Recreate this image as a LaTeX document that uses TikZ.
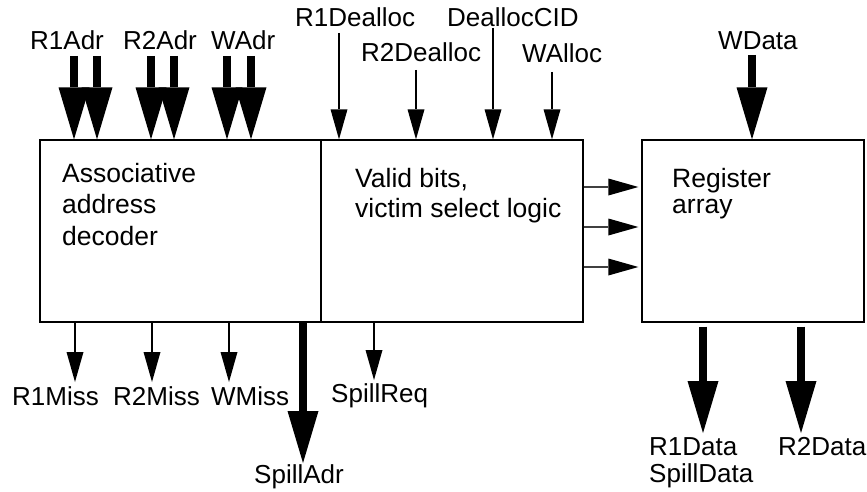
\documentclass[tikz,border=0pt]{standalone}
\usepackage{fontspec}
\setmainfont{Liberation Sans}
\usetikzlibrary{arrows.meta}
\begin{document}
\begin{tikzpicture}[x=1pt,y=-1pt,
  blk/.style={draw, line width=1.3pt, inner sep=0pt},
  lbl/.style={anchor=base west, inner sep=0pt, font=\fontsize{26}{31}\selectfont},
  captxt/.style={lbl, font=\fontsize{26.5}{31}\selectfont},
  bus/.style={line width=8pt, -{Triangle[length=52pt,width=31pt,line width=0pt]}},
  sig/.style={line width=2.4pt, -{Triangle[length=30pt,width=17pt,line width=0pt]}},
  ctl/.style={line width=1.5pt, draw=black!75, -{Triangle[length=30pt,width=17pt,line width=0pt,fill=black]}}]

\useasboundingbox (0,0) rectangle (867,492);

% functional blocks
\node[blk, minimum width=281pt, minimum height=182pt] (dec) at (180.5,231) {};
\node[blk, minimum width=262pt, minimum height=182pt] (vs)  at (452,231) {};
\node[blk, minimum width=222pt, minimum height=182pt] (reg) at (753,231) {};

% block captions
\node[captxt] (t1) at (62,182) {Associative};
\node[captxt] (t2) at (62,213) {address};
\node[captxt] (t3) at (62,245) {decoder};
\node[captxt] (t4) at (355,187) {Valid bits,};
\node[captxt] (t5) at (355,217) {victim select logic};
\node[captxt] (t6) at (672,187) {Register};
\node[captxt] (t7) at (672,213) {array};

% input labels
\node[lbl] (lr1a) at (30,50)  {R1Adr};
\node[lbl] (lr2a) at (123,50) {R2Adr};
\node[lbl] (lwa)  at (211,50) {WAdr};
\node[lbl] (lr1d) at (295,27) {R1Dealloc};
\node[lbl] (lr2d) at (361,62) {R2Dealloc};
\node[lbl] (ldc)  at (447,27) {DeallocCID};
\node[lbl] (lwal) at (522,63) {WAlloc};
\node[lbl] (lwd)  at (718,50) {WData};

% output labels
\node[lbl] (lm1) at (12,405)  {R1Miss};
\node[lbl] (lm2) at (113,405) {R2Miss};
\node[lbl] (lmw) at (211,405) {WMiss};
\node[lbl] (lsr) at (331,402) {SpillReq};
\node[lbl] (lsa) at (254,483) {SpillAdr};
\node[lbl] (lo1) at (649,455) {R1Data};
\node[lbl] (lsd) at (649,482) {SpillData};
\node[lbl] (lo2) at (778,455) {R2Data};

% free ends of the connectors
\coordinate (a1) at (74,56);  \coordinate (a2) at (97,56);
\coordinate (b1) at (151,56); \coordinate (b2) at (174,56);
\coordinate (w1) at (227,56); \coordinate (w2) at (251,56);
\coordinate (d1) at (339,33); \coordinate (d2) at (416,70);
\coordinate (dc) at (493,28); \coordinate (wa) at (552,72);
\coordinate (wd) at (752,55);
\coordinate (m1) at (75,382); \coordinate (m2) at (152,382);
\coordinate (mw) at (229,382); \coordinate (sr) at (374,380);
\coordinate (sa) at (303,463);
\coordinate (o1) at (703,433); \coordinate (o2) at (801,433);
\coordinate (r1) at (610,187); \coordinate (r2) at (610,227);
\coordinate (r3) at (610,267);

% address buses into the decoder
\foreach \p in {a1,a2,b1,b2,w1,w2}
  \draw[bus] (\p) -- (\p |- dec.north);

% control signals into the valid-bit logic
\foreach \p in {d1,d2,dc,wa}
  \draw[sig] (\p) -- (\p |- vs.north);

% write data bus
\draw[bus] (wd) -- (wd |- reg.north);

% miss and spill outputs
\foreach \p in {m1,m2,mw}
  \draw[sig] (\p |- dec.south) -- (\p);
\draw[sig] (sr |- vs.south) -- (sr);
\draw[bus] (sa |- dec.south) -- (sa);

% word selects into the register array
\foreach \p in {r1,r2,r3}
  \draw[ctl, shorten >=3pt] (vs.east |- \p) -- (reg.west |- \p);

% read data buses
\draw[bus, shorten <=4pt] (o1 |- reg.south) -- (o1);
\draw[bus, shorten <=4pt] (o2 |- reg.south) -- (o2);

\end{tikzpicture}
\end{document}
